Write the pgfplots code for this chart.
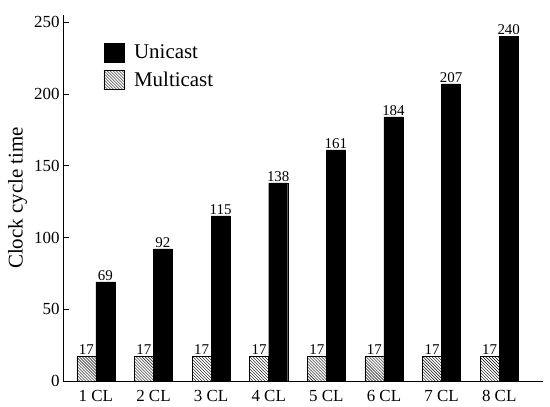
\documentclass[border=0pt]{standalone}
\usepackage{fontspec}
\setmainfont{Liberation Serif}
\usepackage{pgfplots}
\pgfplotsset{compat=1.18}
\usetikzlibrary{patterns}
\begin{document}
\begin{tikzpicture}
\begin{axis}[name=ax,
 scale only axis, width=480bp, height=366bp,
 xmin=-0.57, xmax=7.76, ymin=0, ymax=255,
 axis x line*=bottom, axis y line*=left,
 axis line style={-, line width=1bp},
 xtick={0,...,7},
 xticklabels={1 CL,2 CL,3 CL,4 CL,5 CL,6 CL,7 CL,8 CL},
 x tick style={draw=none},
 ytick={0,50,...,250},
 y tick style={line width=0.8bp, black},
 major tick length=6bp,
 tick align=inside,
 ylabel={Clock cycle time},
 ylabel style={font=\fontsize{21}{24}\selectfont},
 tick label style={font=\fontsize{17}{19}\selectfont},
 /pgf/number format/assume math mode=true,
 ybar, bar width=19bp,
 nodes near coords,
 nodes near coords style={font=\fontsize{15}{17}\selectfont, black, inner sep=1.5bp},
 legend style={draw=none, fill=none, at={(0.078,0.93)}, anchor=north west,
   font=\fontsize{21}{24}\selectfont, row sep=8bp},
 legend cell align=left,
 reverse legend,
 legend image code/.code={\draw[#1,/pgf/bar shift=0pt] (0bp,-9.5bp) rectangle (20bp,9.5bp); \path (28bp,0bp);},
]
\addplot[bar shift=-9.5bp, draw=black, line width=0.5bp, pattern=north west lines]
 coordinates {(0,17) (1,17) (2,17) (3,17) (4,17) (5,17) (6,17) (7,17)};
\addplot[bar shift=9.5bp, draw=black, fill=black]
 coordinates {(0,69) (1,92) (2,115) (3,138) (4,161) (5,184) (6,207) (7,240)};
\legend{Multicast, Unicast}
\end{axis}
\path ([shift={(-63bp,-25bp)}]ax.south west) rectangle ([shift={(7bp,15bp)}]ax.north east);
\end{tikzpicture}
\end{document}
